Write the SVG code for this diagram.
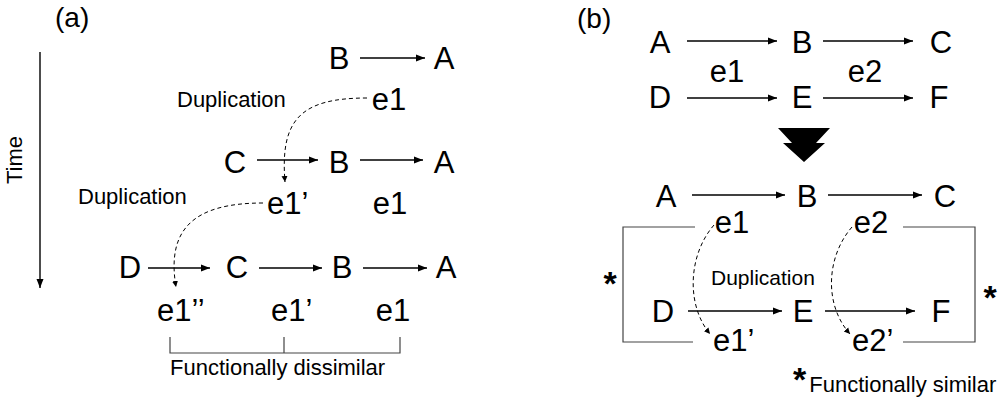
<svg xmlns="http://www.w3.org/2000/svg" width="1000" height="401" viewBox="0 0 1000 401">
<style>
text{font-family:"Liberation Sans",Arial,sans-serif;fill:#000}
.n{font-size:31px;text-anchor:middle}
.s{font-size:31px}
.lab{font-size:22px}
.pl{font-size:28px}
.ast{font-size:34px;font-weight:bold;text-anchor:middle}
.ar{stroke:#000;stroke-width:1.4;fill:none;marker-end:url(#ah)}
.da{stroke:#000;stroke-width:1;fill:none;stroke-dasharray:4 3;marker-end:url(#dh)}
.br{stroke:#444;stroke-width:1.2;fill:none}
</style>
<defs>
<marker id="ah" markerUnits="userSpaceOnUse" markerWidth="10" markerHeight="10" refX="9" refY="5" orient="auto">
<path d="M0,1.5 L9,5 L0,8.5 z" fill="#000"/>
</marker>
<marker id="dh" markerUnits="userSpaceOnUse" markerWidth="8" markerHeight="8" refX="6" refY="4" orient="auto">
<path d="M0,1 L6,4 L0,7 z" fill="#000"/>
</marker>
</defs>
<rect width="1000" height="401" fill="#fff"/>

<!-- Panel (a) -->
<text x="55" y="27" class="pl">(a)</text>
<g id="time">
<line x1="40" y1="52" x2="40" y2="288" class="ar"/>
<text transform="translate(22,160) rotate(-90)" class="lab" text-anchor="middle">Time</text>
</g>
<g id="a-r1-B"><text class="n" x="339" y="69">B</text></g>
<g id="a-r1-A"><text class="n" x="444" y="69">A</text></g>
<g id="a-r1-e1"><text class="n" x="389" y="110">e1</text></g>
<g id="a-dup1"><text class="lab" x="177" y="107">Duplication</text></g>
<g id="a-r2-C"><text class="n" x="235" y="173">C</text></g>
<g id="a-r2-B"><text class="n" x="339" y="173">B</text></g>
<g id="a-r2-A"><text class="n" x="444" y="173">A</text></g>
<g id="a-r2-e1p"><text class="s" x="267" y="214">e1’</text></g>
<g id="a-r2-e1"><text class="n" x="390" y="214">e1</text></g>
<g id="a-dup2"><text class="lab" x="78" y="204">Duplication</text></g>
<g id="a-r3-D"><text class="n" x="130" y="278">D</text></g>
<g id="a-r3-C"><text class="n" x="237" y="278">C</text></g>
<g id="a-r3-B"><text class="n" x="342" y="278">B</text></g>
<g id="a-r3-A"><text class="n" x="446" y="278">A</text></g>
<g id="a-r3-e1pp"><text class="s" x="157" y="321">e1’’</text></g>
<g id="a-r3-e1p"><text class="s" x="271" y="321">e1’</text></g>
<g id="a-r3-e1"><text class="n" x="393" y="321">e1</text></g>
<g id="a-bracket">
<path class="br" d="M170,337 V353 H400 V337 M284,337 V353"/>
<text class="lab" x="170" y="375">Functionally dissimilar</text>
</g>

<!-- Panel (b) -->
<text x="577" y="28" class="pl">(b)</text>
<g id="b1-A"><text class="n" x="660" y="53">A</text></g>
<g id="b1-B"><text class="n" x="802" y="53">B</text></g>
<g id="b1-C"><text class="n" x="941" y="53">C</text></g>
<g id="b1-e1"><text class="n" x="727" y="82">e1</text></g>
<g id="b1-e2"><text class="n" x="865" y="82">e2</text></g>
<g id="b1-D"><text class="n" x="660" y="108">D</text></g>
<g id="b1-E"><text class="n" x="802" y="108">E</text></g>
<g id="b1-F"><text class="n" x="939" y="108">F</text></g>
<g id="bigarrow"><path d="M778,128 H830 L816,143 H825 L804,162 L783,143 H792 Z" fill="#000"/></g>
<g id="b2-A"><text class="n" x="666" y="207">A</text></g>
<g id="b2-B"><text class="n" x="807" y="207">B</text></g>
<g id="b2-C"><text class="n" x="945" y="207">C</text></g>
<g id="b2-e1"><text class="n" x="732" y="233">e1</text></g>
<g id="b2-e2"><text class="n" x="871" y="233">e2</text></g>
<g id="b2-D"><text class="n" x="663" y="322">D</text></g>
<g id="b2-E"><text class="n" x="803" y="322">E</text></g>
<g id="b2-F"><text class="n" x="941" y="322">F</text></g>
<g id="b2-e1p"><text class="s" x="713" y="351">e1’</text></g>
<g id="b2-e2p"><text class="s" x="852" y="351">e2’</text></g>
<g id="b-dup"><text class="lab" x="711" y="285" style="font-size:21px">Duplication</text></g>
<g id="b-bracket-left">
<path class="br" d="M695,227 H623 V342 H693"/>
<text class="ast" x="610" y="295">*</text>
</g>
<g id="b-bracket-right">
<path class="br" d="M903,227 H975 V342 H903"/>
<text class="ast" x="990" y="309">*</text>
</g>
<g id="b-legend">
<text x="793" y="391"><tspan style="font-size:34px;font-weight:bold">*</tspan><tspan class="lab" dx="3" dy="1">Functionally similar</tspan></text>
</g>

<g id="connectors">
<line class="ar" x1="360" y1="58" x2="425" y2="58"/>
<line class="ar" x1="257" y1="160" x2="318" y2="160"/>
<line class="ar" x1="360" y1="160" x2="423" y2="160"/>
<line class="ar" x1="148" y1="268" x2="210" y2="268"/>
<line class="ar" x1="259" y1="268" x2="322" y2="268"/>
<line class="ar" x1="363" y1="268" x2="427" y2="268"/>
<path class="da" d="M367,98 C300,98 280,120 285,182"/>
<path class="da" d="M263,203 C195,203 166,228 176,287"/>
<line class="ar" x1="687" y1="41" x2="777" y2="41"/>
<line class="ar" x1="823" y1="41" x2="913" y2="41"/>
<line class="ar" x1="687" y1="98" x2="777" y2="98"/>
<line class="ar" x1="823" y1="98" x2="913" y2="98"/>
<line class="ar" x1="692" y1="195" x2="785" y2="195"/>
<line class="ar" x1="828" y1="195" x2="922" y2="195"/>
<line class="ar" x1="688" y1="311" x2="782" y2="311"/>
<line class="ar" x1="825" y1="311" x2="915" y2="311"/>
<path class="da" d="M714,225 C688,255 686,305 710,334"/>
<path class="da" d="M852,227 C826,257 824,305 850,334"/>
</g>
</svg>
